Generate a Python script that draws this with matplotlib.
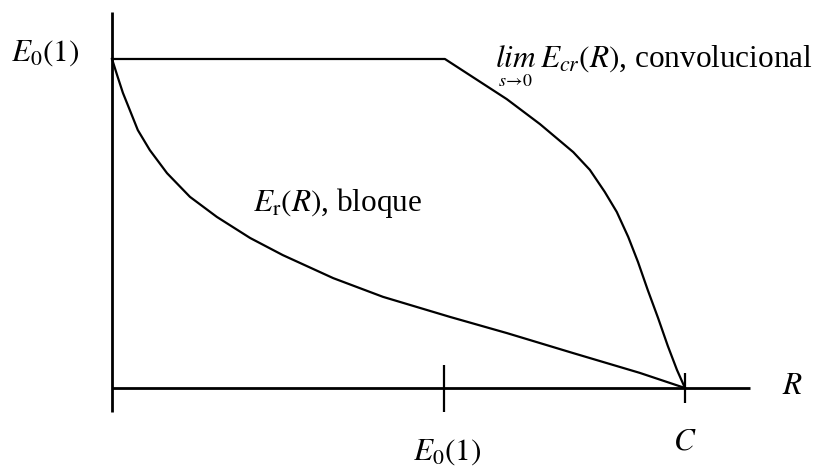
import numpy as np
import matplotlib
matplotlib.use("Agg")
import matplotlib.pyplot as plt

plt.rcParams['font.family'] = ['Liberation Serif', 'DejaVu Serif']
plt.rcParams['mathtext.fontset'] = 'stix'

# R normalizado a C = 1, exponente normalizado a E0(1) = 1
R_E0 = 0.579   # posición de E0(1) sobre el eje R
R_C = 1.0

# exponente de bloque E_r(R)
R_bloque = [0.0, 0.010, 0.019, 0.031, 0.045, 0.066, 0.096, 0.136, 0.183,
            0.241, 0.298, 0.386, 0.473, 0.590, 0.689, 0.805, 0.921, 1.0]
E_bloque = [1.0, 0.945, 0.897, 0.845, 0.784, 0.723, 0.653, 0.581, 0.520,
            0.456, 0.404, 0.334, 0.277, 0.216, 0.167, 0.106, 0.046, 0.0]

# exponente convolucional lim s->0 E_cr(R)
R_conv = [0.0, 0.581, 0.635, 0.689, 0.747, 0.805, 0.834, 0.860, 0.881,
          0.901, 0.918, 0.935, 0.953, 0.970, 0.986, 1.0]
E_conv = [1.0, 1.0, 0.939, 0.878, 0.802, 0.717, 0.663, 0.596, 0.535,
          0.459, 0.383, 0.298, 0.213, 0.128, 0.055, 0.0]

fig = plt.figure(figsize=(8.21, 4.69), dpi=100)
ax = fig.add_axes([0, 0, 1, 1])
ax.set_xlim(-0.1955, 1.2374)
ax.set_ylim(-0.2462, 1.1793)
ax.axis('off')

# ejes y marcas
ax.plot([0, 0], [-0.073, 1.143], color='black', lw=2.0, solid_capstyle='butt')
ax.plot([0, 1.113], [0, 0], color='black', lw=2.0, solid_capstyle='butt')
ax.plot([R_E0, R_E0], [-0.073, 0.070], color='black', lw=1.6, solid_capstyle='butt')
ax.plot([R_C, R_C], [-0.046, 0.046], color='black', lw=1.6, solid_capstyle='butt')

# curvas
ax.plot(R_bloque, E_bloque, color='black', lw=1.6, solid_joinstyle='round')
ax.plot(R_conv, E_conv, color='black', lw=1.6, solid_joinstyle='round')

fs = 22.5
ax.text(-0.056, 1.018, r'$E_0(1)$', fontsize=fs, ha='right', va='center')
ax.text(R_E0 + 0.006, -0.195, r'$E_0(1)$', fontsize=fs, ha='center', va='center')
ax.text(R_C, -0.164, r'$C$', fontsize=fs, ha='center', va='center')
ax.text(1.187, 0.006, r'$R$', fontsize=fs, ha='center', va='center')
ax.text(0.246, 0.562, r'$E_\mathrm{r}(R)$, bloque', fontsize=fs, ha='left', va='center')

ax.text(0.668, 0.976, r'$lim$', fontsize=fs, ha='left', va='baseline')
ax.text(0.673, 0.933, r'$s\!\rightarrow\!0$', fontsize=13, ha='left', va='center')
ax.text(0.747, 0.976, r'$E_{cr}(R)$, convolucional', fontsize=fs, ha='left', va='baseline')

fig.savefig('out.png', dpi=100)
